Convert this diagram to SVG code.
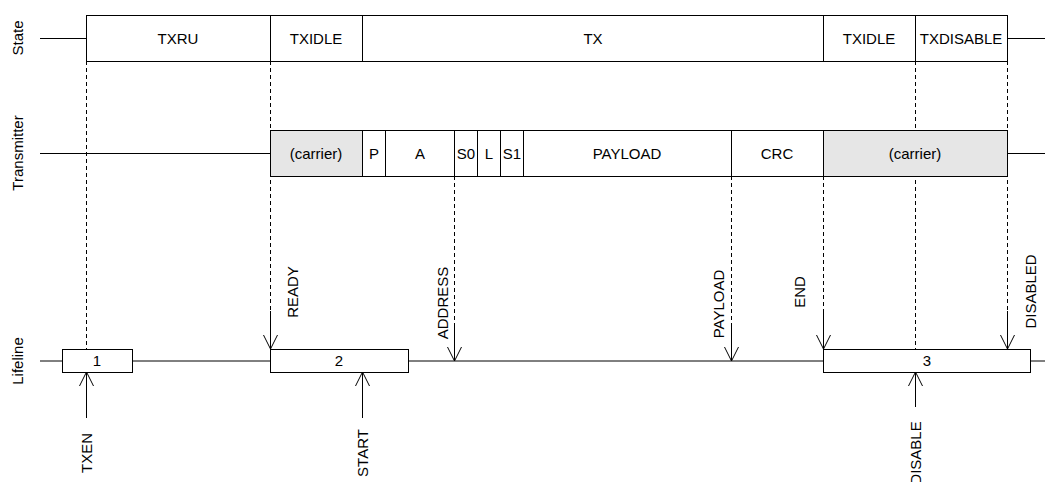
<svg xmlns="http://www.w3.org/2000/svg" width="1045" height="482" viewBox="0 0 1045 482">
<style>
text{font-family:"Liberation Sans",Arial,sans-serif;font-size:15px;fill:#000;text-anchor:middle}
.box{fill:#fff;stroke:#000;stroke-width:1}
.grey{fill:#e6e6e6;stroke:#000;stroke-width:1}
.ln{stroke:#000;stroke-width:1;fill:none}
.dash{stroke:#000;stroke-width:1;fill:none;stroke-dasharray:4 3}
.arr{stroke:#000;stroke-width:1;fill:none;marker-end:url(#v)}
</style>
<defs>
<marker id="v" viewBox="0 0 16 16" refX="15" refY="8" markerWidth="16" markerHeight="16" markerUnits="userSpaceOnUse" orient="auto">
<path d="M1,1 L15,8 L1,15" fill="none" stroke="#000" stroke-width="1"/>
</marker>
</defs>
<rect width="1045" height="482" fill="#fff"/>
<g id="axis-labels">
<text transform="translate(23,38) rotate(-90)">State</text>
<text transform="translate(23,153) rotate(-90)">Transmitter</text>
<text transform="translate(23,361) rotate(-90)">Lifeline</text>
</g>
<g id="connectors">
<line class="ln" x1="40" y1="38.5" x2="86" y2="38.5"/>
<line class="ln" x1="1007" y1="38.5" x2="1045" y2="38.5"/>
<line class="ln" x1="40" y1="153.5" x2="270" y2="153.5"/>
<line class="ln" x1="1007" y1="153.5" x2="1045" y2="153.5"/>
<line class="ln" x1="40" y1="361" x2="1045" y2="361"/>
<line class="dash" x1="86.5" y1="61" x2="86.5" y2="349"/>
<line class="dash" x1="270.5" y1="61" x2="270.5" y2="311"/>
<line class="dash" x1="454.5" y1="176" x2="454.5" y2="323"/>
<line class="dash" x1="731.5" y1="176" x2="731.5" y2="323"/>
<line class="dash" x1="823.5" y1="176" x2="823.5" y2="311"/>
<line class="dash" x1="915.5" y1="61" x2="915.5" y2="349"/>
<line class="dash" x1="1007.5" y1="61" x2="1007.5" y2="311"/>
<line class="arr" x1="270.5" y1="311" x2="270.5" y2="349"/>
<line class="arr" x1="454.5" y1="323" x2="454.5" y2="361"/>
<line class="arr" x1="731.5" y1="323" x2="731.5" y2="361"/>
<line class="arr" x1="823.5" y1="311" x2="823.5" y2="349"/>
<line class="arr" x1="1007.5" y1="311" x2="1007.5" y2="349"/>
<line class="arr" x1="86.5" y1="418" x2="86.5" y2="372"/>
<line class="arr" x1="362.5" y1="418" x2="362.5" y2="372"/>
<line class="arr" x1="915.5" y1="407" x2="915.5" y2="372"/>
</g>
<g id="state-row">
<g id="s-txru"><rect class="box" x="86.5" y="15.5" width="184" height="46"/><text x="178" y="43.5">TXRU</text></g>
<g id="s-txidle1"><rect class="box" x="270.5" y="15.5" width="92" height="46"/><text x="316" y="43.5">TXIDLE</text></g>
<g id="s-tx"><rect class="box" x="362.5" y="15.5" width="461" height="46"/><text x="593" y="43.5">TX</text></g>
<g id="s-txidle2"><rect class="box" x="823.5" y="15.5" width="92" height="46"/><text x="869" y="43.5">TXIDLE</text></g>
<g id="s-txdisable"><rect class="box" x="915.5" y="15.5" width="92" height="46"/><text x="961" y="43.5">TXDISABLE</text></g>
</g>
<g id="transmitter-row">
<g id="t-carrier1"><rect class="grey" x="270.5" y="130.5" width="92" height="46"/><text x="316" y="158.5">(carrier)</text></g>
<g id="t-p"><rect class="box" x="362.5" y="130.5" width="23" height="46"/><text x="374" y="158.5">P</text></g>
<g id="t-a"><rect class="box" x="385.5" y="130.5" width="69" height="46"/><text x="420" y="158.5">A</text></g>
<g id="t-s0"><rect class="box" x="454.5" y="130.5" width="23" height="46"/><text x="466" y="158.5">S0</text></g>
<g id="t-l"><rect class="box" x="477.5" y="130.5" width="23" height="46"/><text x="489" y="158.5">L</text></g>
<g id="t-s1"><rect class="box" x="500.5" y="130.5" width="23" height="46"/><text x="512" y="158.5">S1</text></g>
<g id="t-payload"><rect class="box" x="523.5" y="130.5" width="208" height="46"/><text x="627" y="158.5">PAYLOAD</text></g>
<g id="t-crc"><rect class="box" x="731.5" y="130.5" width="92" height="46"/><text x="777" y="158.5">CRC</text></g>
<g id="t-carrier2"><rect class="grey" x="823.5" y="130.5" width="184" height="46"/><text x="915" y="158.5">(carrier)</text></g>
</g>
<g id="lifeline">
<g id="l-1"><rect class="box" x="62.5" y="349.5" width="70" height="23"/><text x="97" y="366">1</text></g>
<g id="l-2"><rect class="box" x="270.5" y="349.5" width="138" height="23"/><text x="339" y="366">2</text></g>
<g id="l-3"><rect class="box" x="823.5" y="349.5" width="207" height="23"/><text x="927" y="366">3</text></g>
</g>
<g id="event-labels">
<text transform="translate(298,292) rotate(-90)">READY</text>
<text transform="translate(448,303) rotate(-90)">ADDRESS</text>
<text transform="translate(724,304) rotate(-90)">PAYLOAD</text>
<text transform="translate(805,292) rotate(-90)">END</text>
<text transform="translate(1036,291.5) rotate(-90)">DISABLED</text>
<text transform="translate(91.5,453) rotate(-90)">TXEN</text>
<text transform="translate(368,453) rotate(-90)">START</text>
<text transform="translate(920.5,453) rotate(-90)">DISABLE</text>
</g>
</svg>
